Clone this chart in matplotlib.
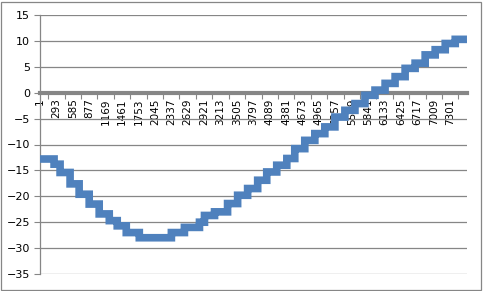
import numpy as np
import matplotlib.pyplot as plt
from matplotlib.patches import Rectangle

# category index where each stepped level starts, and its value
seg_start = [1, 251, 358, 536, 697, 876, 1054, 1233, 1375, 1536, 1768, 2339,
             2571, 2839, 2928, 3107, 3339, 3518, 3696, 3875, 4036, 4214, 4393,
             4535, 4713, 4892, 5070, 5249, 5427, 5606, 5784, 5963, 6142, 6320,
             6499, 6677, 6856, 7034, 7213, 7391]
seg_level = [-12.8, -13.8, -15.4, -17.6, -19.6, -21.5, -23.4, -24.7, -25.7, -27.0,
             -28.0, -27.0, -26.0, -25.0, -23.7, -23.0, -21.4, -19.8, -18.5, -16.9,
             -15.3, -14.0, -12.7, -10.8, -9.2, -7.9, -6.6, -4.7, -3.4, -2.1,
             -0.5, 0.5, 1.8, 3.1, 4.7, 5.7, 7.3, 8.3, 9.5, 10.3]
n_points = 7600

tick_pos = list(range(1, 7302, 292))
y_ticks = [-35, -30, -25, -20, -15, -10, -5, 0, 5, 10, 15]

# expand the step table to one value per category
runs = np.diff(seg_start + [n_points + 1])
y = np.repeat(seg_level, runs)
x = np.arange(1, n_points + 1)

grey = "#868686"
blue = "#4F81BD"

fig = plt.figure(figsize=(4.83, 2.91), dpi=100)
ax = fig.add_axes([40 / 483, 17 / 291, 427 / 483, 259 / 291])

# spine position first: it resets the ticks
for s in ["top", "right"]:
    ax.spines[s].set_visible(False)
ax.spines["left"].set_color(grey)
ax.spines["left"].set_linewidth(0.9)
ax.spines["bottom"].set_position(("data", 0))
ax.spines["bottom"].set_color(grey)
ax.spines["bottom"].set_linewidth(3)
ax.spines["bottom"].set_zorder(2.5)

ax.plot(x, y, color=blue, lw=5.5, drawstyle="steps-post",
        solid_joinstyle="miter", solid_capstyle="butt", zorder=3)

ax.set_xlim(0.5, n_points + 0.5)
ax.set_ylim(-35, 15)
ax.set_yticks(y_ticks)
ax.set_xticks(tick_pos)
ax.set_xticklabels([str(t) for t in tick_pos], rotation=90, fontsize=7.5,
                   va="top", ha="center")
ax.set_xticks([t + 146 for t in tick_pos], minor=True)
ax.tick_params(axis="x", which="major", length=0, pad=4)
ax.tick_params(axis="x", which="minor", length=4, color=grey, width=0.8)
ax.tick_params(axis="y", length=4, color=grey, width=0.8, labelsize=8, pad=3)

ax.yaxis.grid(True, color=grey, lw=0.9)
ax.set_axisbelow(True)

# chart border
fig.patches.append(Rectangle((0.003, 0.004), 0.992, 0.99, transform=fig.transFigure,
                             fill=False, edgecolor=grey, lw=0.9))

fig.savefig("out.png", dpi=100)
